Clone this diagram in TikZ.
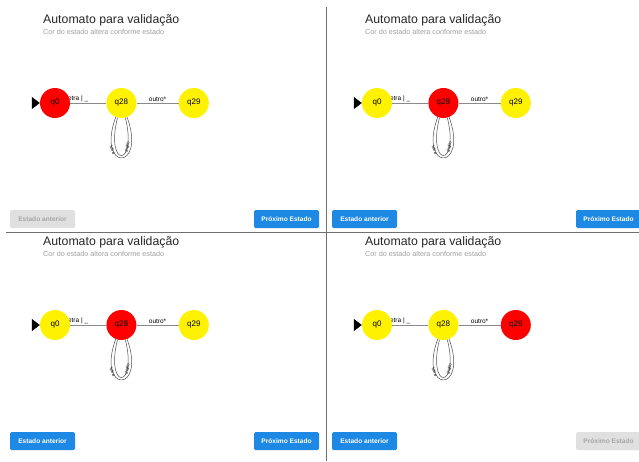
\documentclass[tikz,border=0pt]{standalone}
\usepackage{fontspec}
\setmainfont{Liberation Sans}
\usepackage{tikz}
\usetikzlibrary{positioning}
\usetikzlibrary{arrows.meta}
\usetikzlibrary{backgrounds}

\definecolor{azul}{HTML}{1E88E5}
\definecolor{cinzabtn}{HTML}{E0E0E0}
\definecolor{cinzatxt}{HTML}{A6A6A6}
\definecolor{cinzasub}{HTML}{9E9E9E}
\definecolor{linha}{HTML}{8A8A8A}
\definecolor{divisor}{HTML}{707070}

\begin{document}
\begin{tikzpicture}[
		x=1pt, y=-1pt,
		estado/.style={circle, fill=#1, minimum size=30pt, inner sep=0pt, font=\fontsize{8}{9}\selectfont},
		titulo/.style={anchor=west, inner sep=0pt, font=\fontsize{12.3}{13}\selectfont, text=black!85},
		subtit/.style={anchor=west, inner sep=0pt, font=\fontsize{7.2}{8}\selectfont, text=cinzasub},
		botao/.style={rectangle, rounded corners=1.5pt, minimum width=65pt, minimum height=18pt, inner sep=0pt, font=\fontsize{6.6}{7}\selectfont\bfseries},
		btnon/.style={botao, fill=azul, text=white},
		btnoff/.style={botao, fill=cinzabtn, text=cinzatxt},
		trans/.style={draw=linha, line width=0.9pt},
		laco/.style={draw=black!70, line width=0.5pt},
		rotulo/.style={font=\fontsize{6.5}{7}\selectfont, inner sep=1pt},
		rotlaco/.style={font=\fontsize{4.3}{5}\selectfont, inner sep=0.3pt, sloped}
		]
		
		\useasboundingbox (0,0) rectangle (639,461);
		
		% divisores
		\draw[divisor, line width=0.8pt] (326,7) -- (326,461);
		\draw[divisor, line width=0.8pt] (6,232) -- (639,232);
		
		% os quatro quadros
		\foreach \dx/\dy/\ca/\cb/\cc/\ant/\prox/\n in {
			0/0/red/yellow/yellow/btnoff/btnon/a,
			322/0/yellow/red/yellow/btnon/btnon/b,
			0/222/yellow/red/yellow/btnon/btnon/c,
			322/222/yellow/yellow/red/btnon/btnoff/d}{
		\begin{scope}[shift={(\dx,\dy)}]
			\node[titulo] (tit\n) at (43,20) {Automato para validação};
			\node[subtit] (sub\n) at (43,32) {Cor do estado altera conforme estado};
			
			% estados
			\node[estado=\ca] (q0\n) at (55,103) {q0};
			\node[estado=\cb, right=36pt of q0\n] (q28\n) {q28};
			\node[estado=\cc, right=42pt of q28\n] (q29\n) {q29};
			\coordinate (ini\n) at (33,103);
			
			% transicoes
			\begin{scope}[on background layer]
				\draw[trans] (q0\n) -- node[rotulo, above, pos=0.2] {letra | \_} (q28\n);
				\draw[trans] (q28\n) -- node[rotulo, above] {outro*} (q29\n);
			\end{scope}
			\draw[-{Triangle[length=8pt,width=12pt]}] (ini\n) -- (q0\n.west);
			\draw[laco] (q28\n.-112) .. controls +(110:58) and +(70:58) .. node[rotlaco, pos=0.28] {letra} (q28\n.-68);
			\draw[laco] (q28\n.-105) .. controls +(104:52) and +(76:52) .. node[rotlaco, pos=0.74] {digito} (q28\n.-75);
			
			% botoes
			\node[\ant] (ant\n) at (42.5,219) {Estado anterior};
			\node[\prox] (prox\n) at (286.5,219) {Próximo Estado};
		\end{scope}
		}
		
	\end{tikzpicture}
\end{document}
